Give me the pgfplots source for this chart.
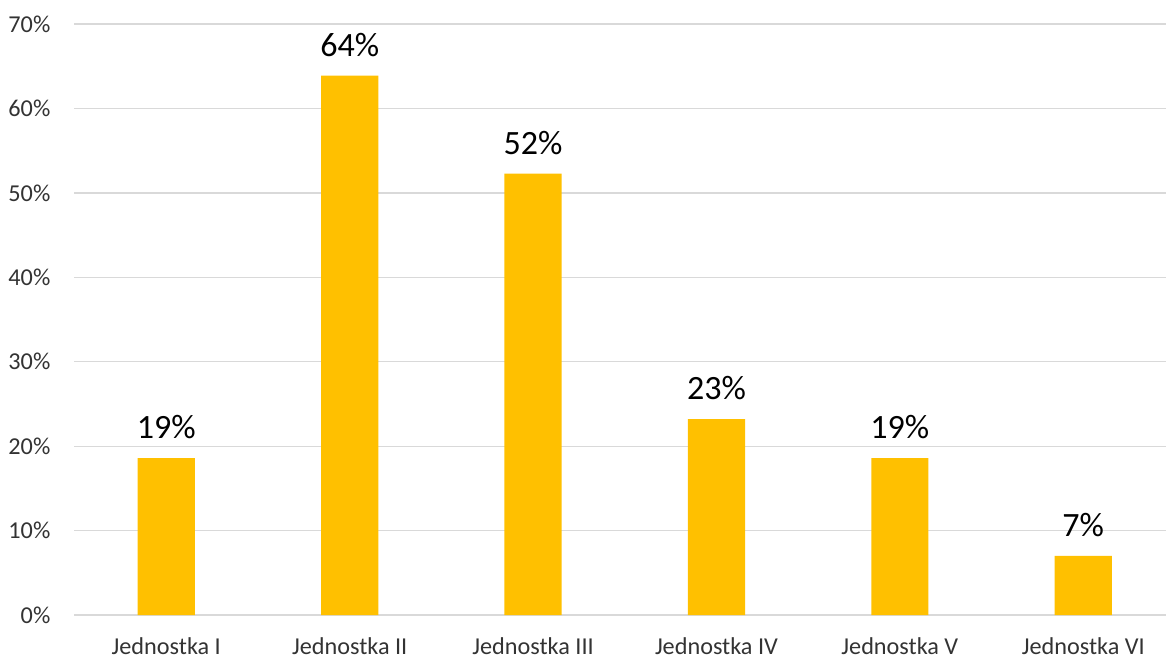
\documentclass[border=0pt]{standalone}
\usepackage{pgfplots}
\pgfplotsset{compat=1.18}
\usepackage{fontspec}
\setmainfont{Carlito}
\definecolor{barGold}{HTML}{FFC000}
\definecolor{gridGray}{HTML}{D9D9D9}
\begin{document}
\begin{tikzpicture}
\begin{axis}[
    scale only axis,
    width=802pt, height=434pt,
    xmin=-0.502, xmax=5.453,
    ymin=0, ymax=70,
    ytick={0,10,...,70},
    yticklabel={\pgfmathprintnumber{\tick}\%},
    xtick={0,1,2,3,4,5},
    xticklabels={Jednostka I,Jednostka II,Jednostka III,Jednostka IV,Jednostka V,Jednostka VI},
    /pgf/number format/assume math mode=true,
    ticklabel style={font=\fontsize{17.8}{20}\selectfont, text=black!80},
    yticklabel style={xshift=-14pt},
    xticklabel style={yshift=-13pt},
    major tick length=0pt,
    axis line style={draw=none},
    ymajorgrids,
    grid style={gridGray, line width=1pt},
    clip=false,
]
\addplot[ybar, bar width=0.312, fill=barGold, draw=none,
    nodes near coords={\pgfmathprintnumber[fixed,precision=0]{\pgfplotspointmeta}\%},
    nodes near coords style={font=\fontsize{25}{28}\selectfont, text=black, yshift=10.5pt}]
    coordinates {(0,18.6) (1,63.9) (2,52.3) (3,23.2) (4,18.6) (5,7.0)};
\path (rel axis cs:0,1) ++(-54.5pt,17.7pt);
\end{axis}
\end{tikzpicture}
\end{document}
